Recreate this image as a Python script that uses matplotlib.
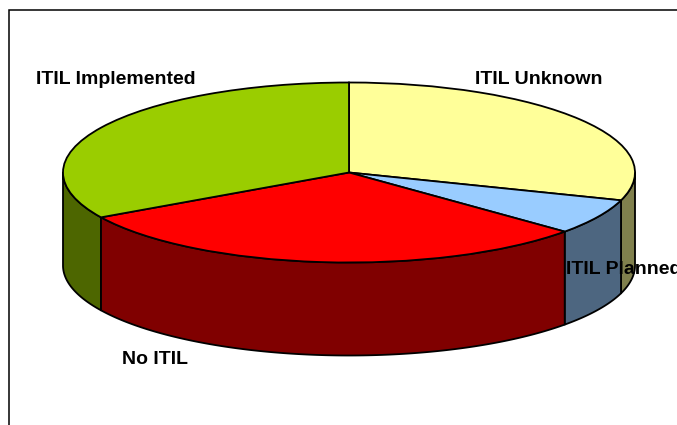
import numpy as np
import matplotlib
matplotlib.use("Agg")
import matplotlib.pyplot as plt
from matplotlib.patches import Rectangle

labels = ["ITIL Unknown", "ITIL Planned", "No ITIL", "ITIL Implemented"]
values = [30.0, 6.4, 30.3, 33.3]
top_colors = ["#FFFF99", "#99CCFF", "#FF0000", "#9ACD00"]
side_colors = ["#80804D", "#4D6680", "#800000", "#4D6600"]

W, H = 677, 425
CX, CY, RX, RY, DEPTH = 349, 172.5, 286, 90, 93
LABEL_PX = [(538.5, 80), (623.5, 270), (154.5, 359), (116, 80)]

fig = plt.figure(figsize=(W / 100, H / 100), dpi=100)
ax = fig.add_axes([0, 0, 1, 1])

def ux(px):
    return (px - CX) / RX

def uy(py):
    return (CY - py) / RY

d = DEPTH / RY
edges = 90 - np.cumsum([0] + values) / sum(values) * 360

# Frame of the chart area (runs off the right and bottom of the picture)
ax.add_patch(Rectangle((ux(9), uy(10)), ux(W + 20) - ux(9), uy(H + 20) - uy(10),
                       fc="white", ec="black", lw=1.1, zorder=0))

# Side walls: the part of each slice on the front half of the rim
order = sorted(range(len(values)), key=lambda i: -abs(((edges[i] + edges[i + 1]) / 2 + 90 + 180) % 360 - 180))
for i in order:
    a1, a0 = edges[i], edges[i + 1]  # a0 < a1, clockwise slice
    lo = max(a0, -180)
    hi = min(a1, 0)
    if hi <= lo:
        continue
    t = np.radians(np.linspace(lo, hi, 200))
    x = np.cos(t)
    y = np.sin(t)
    ax.fill(np.r_[x, x[::-1]], np.r_[y, y[::-1] - d], fc=side_colors[i], ec="black",
            lw=1.3, zorder=1, joinstyle="round")

# Top face
ax.pie(values, colors=top_colors, startangle=90, counterclock=False, radius=1, center=(0, 0),
       frame=True, wedgeprops=dict(edgecolor="black", linewidth=1.3, zorder=2))

ax.set_aspect("auto")
ax.set_xlim(ux(0), ux(W))
ax.set_ylim(uy(H), uy(0))
ax.axis("off")

for name, (px, py) in zip(labels, LABEL_PX):
    ax.text(ux(px), uy(py), name, ha="center", va="center", fontsize=14, fontweight="bold",
            family="Liberation Sans", color="black", zorder=5, clip_on=False)

fig.savefig("out.png", dpi=100)
